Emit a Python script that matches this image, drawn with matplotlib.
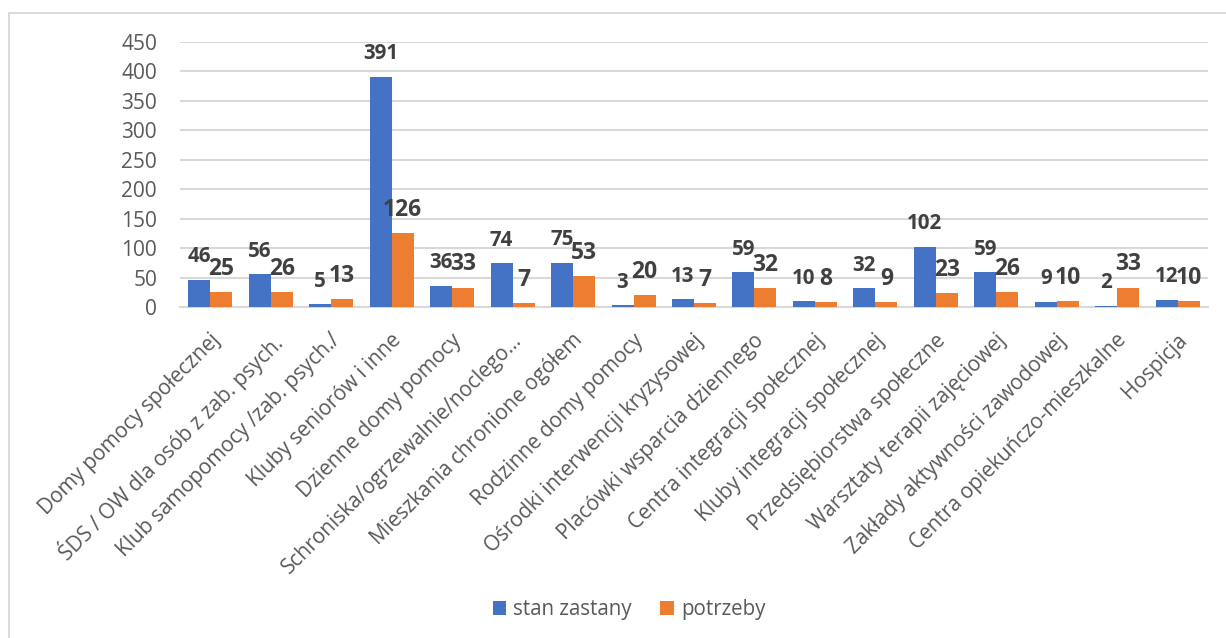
import matplotlib
matplotlib.use("Agg")
import matplotlib.pyplot as plt
import numpy as np
from matplotlib.patches import Rectangle, Patch
from matplotlib.transforms import ScaledTranslation

categories = [
    "Domy pomocy społecznej",
    "ŚDS / OW dla osób z zab. psych.",
    "Klub samopomocy /zab. psych./",
    "Kluby seniorów i inne",
    "Dzienne domy pomocy",
    "Schroniska/ogrzewalnie/noclego…",
    "Mieszkania chronione ogółem",
    "Rodzinne domy pomocy",
    "Ośrodki interwencji kryzysowej",
    "Placówki wsparcia dziennego",
    "Centra integracji społecznej",
    "Kluby integracji społecznej",
    "Przedsiębiorstwa społeczne",
    "Warsztaty terapii zajęciowej",
    "Zakłady aktywności zawodowej",
    "Centra opiekuńczo-mieszkalne",
    "Hospicja",
]
stan_zastany = [46, 56, 5, 391, 36, 74, 75, 3, 13, 59, 10, 32, 102, 59, 9, 2, 12]
potrzeby = [25, 26, 13, 126, 33, 7, 53, 20, 7, 32, 8, 9, 23, 26, 10, 33, 10]
series_names = ["stan zastany", "potrzeby"]
y_ticks = [0, 50, 100, 150, 200, 250, 300, 350, 400, 450]

BLUE = "#4472C4"
ORANGE = "#ED7D31"
FONT = "Open Sans"

plt.rcParams["font.family"] = [FONT, "DejaVu Sans"]

W, H = 1226, 638
fig = plt.figure(figsize=(W / 100, H / 100), dpi=100)

# outer chart border (light gray), extends past right/bottom edges
fig.patches.append(Rectangle((9 / W, -0.1), 1.2, 1 - 13 / H + 0.1,
                             transform=fig.transFigure, fill=False,
                             edgecolor="#d9d9d9", linewidth=1.3))

ax = fig.add_axes([180 / W, 1 - 307 / H, 1028 / W, 265 / H])

x = np.arange(len(categories))
bw = 0.364
ax.bar(x - bw / 2, stan_zastany, bw, color=BLUE, zorder=3, label=series_names[0])
ax.bar(x + bw / 2, potrzeby, bw, color=ORANGE, zorder=3, label=series_names[1])

for xi, v in zip(x - bw / 2, stan_zastany):
    ax.annotate(str(v), (xi, v), xytext=(0, 12.6), textcoords="offset points",
                ha="center", va="baseline", fontsize=14.8, fontweight="bold",
                color="#404040", zorder=5)
for xi, v in zip(x + bw / 2, potrzeby):
    ax.annotate(str(v), (xi, v), xytext=(0, 12.3), textcoords="offset points",
                ha="center", va="baseline", fontsize=16.5, fontweight="bold",
                color="#404040", zorder=5)

ax.set_xlim(-0.5, len(categories) - 0.5)
ax.set_ylim(0, 450)
ax.set_yticks(y_ticks)
ax.yaxis.grid(True, color="#d9d9d9", linewidth=1.5, zorder=0)
ax.set_axisbelow(True)
for s in ["top", "right", "left"]:
    ax.spines[s].set_visible(False)
ax.spines["bottom"].set_color("#d9d9d9")
ax.spines["bottom"].set_linewidth(1.5)
ax.tick_params(axis="y", length=0, pad=16.5, labelsize=15, labelcolor="#595959")
ax.tick_params(axis="x", length=0, pad=16.5, labelsize=15, labelcolor="#595959")

ax.set_xticks(x)
ax.set_xticklabels(categories, rotation=45, ha="right", va="top",
                   rotation_mode="anchor")
offset = ScaledTranslation(-1 / 100, 0, fig.dpi_scale_trans)
for lab in ax.get_xticklabels():
    lab.set_transform(lab.get_transform() + offset)

handles = [Patch(facecolor=BLUE, edgecolor="none"), Patch(facecolor=ORANGE, edgecolor="none")]
fig.legend(handles, series_names, loc="center", bbox_to_anchor=(629 / W, 1 - 610 / H),
           ncol=2, frameon=False, fontsize=14.8, labelcolor="#595959",
           handlelength=0.65, handleheight=0.65, handletextpad=0.35, columnspacing=1.4)

fig.savefig("out.png", dpi=100)
